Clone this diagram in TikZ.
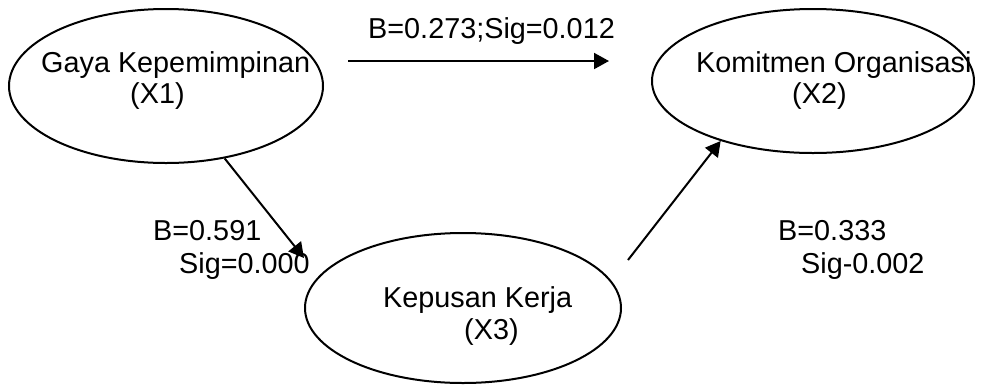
\documentclass[tikz,border=0pt]{standalone}
\usepackage{fontspec}
\setmainfont{Liberation Sans}
\usetikzlibrary{shapes.geometric,arrows.meta}
\begin{document}
\begin{tikzpicture}[x=1pt,y=-1pt,
  var/.style={draw,ellipse,line width=2pt,inner sep=0pt},
  lbl/.style={anchor=base west,inner sep=0pt,font=\fontsize{28.8}{31}\selectfont},
  conn/.style={line width=2pt,-{Triangle[length=15pt,width=16pt]}}]
\useasboundingbox (0,0) rectangle (989,384);
% ellipses
\node[var,minimum width=314pt,minimum height=154pt] (x1) at (166,86) {};
\node[var,minimum width=322pt,minimum height=144pt] (x2) at (813,81) {};
\node[var,minimum width=316pt,minimum height=150pt] (x3) at (463,308) {};
% texts
\node[lbl] (t1a) at (41,72) {Gaya Kepemimpinan};
\node[lbl] (t1b) at (130,103) {(X1)};
\node[lbl] (t2a) at (696,72) {Komitmen Organisasi};
\node[lbl] (t2b) at (792,103) {(X2)};
\node[lbl] (t3a) at (383,307) {Kepusan Kerja};
\node[lbl] (t3b) at (464,339) {(X3)};
\node[lbl] (l12) at (368,38) {B=0.273;Sig=0.012};
\node[lbl] (l13a) at (153,240) {B=0.591};
\node[lbl] (l13b) at (179,273) {Sig=0.000};
\node[lbl] (l32a) at (778,240) {B=0.333};
\node[lbl] (l32b) at (801,273) {Sig-0.002};
% connector ends
\coordinate (a12s) at (348,61);
\coordinate (a12e) at (609,61);
\coordinate (a13e) at (304,258);
\coordinate (a32s) at (628,260);
% connectors
\draw[conn] (a12s) -- (a12e);
\draw[conn] (x1.-51) -- (a13e);
\draw[conn] (a32s) -- (x2.-147);
\end{tikzpicture}
\end{document}
